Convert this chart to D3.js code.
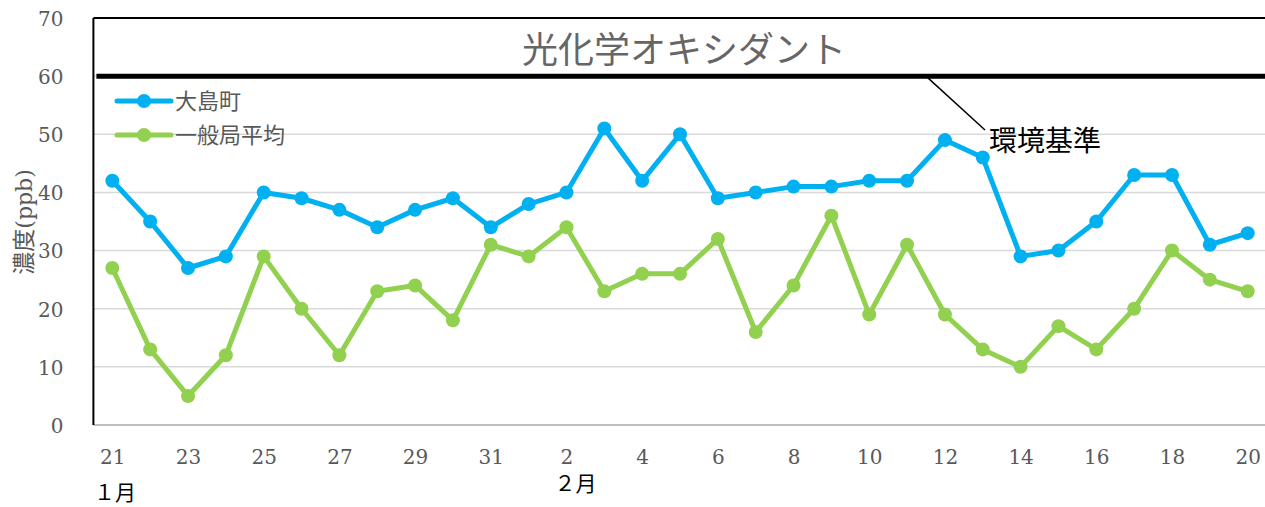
<!DOCTYPE html>
<html>
<head>
<meta charset="utf-8">
<script src="https://cdn.jsdelivr.net/npm/d3@7"></script>
<style>
  html, body { margin: 0; padding: 0; background: #fff; }
  svg { display: block; }
</style>
</head>
<body>
<div id="chart"></div>
<script>
// Daily dates, 21 Jan to 20 Feb
const days = [21,22,23,24,25,26,27,28,29,30,31,1,2,3,4,5,6,7,8,9,10,11,12,13,14,15,16,17,18,19,20];
// 大島町 daily maximum photochemical oxidant (ppb)
const oshima = [42,35,27,29,40,39,37,34,37,39,34,38,40,51,42,50,39,40,41,41,42,42,49,46,29,30,35,43,43,31,33];
// 一般局平均 daily maximum (ppb)
const generalAvg = [27,13,5,12,29,20,12,23,24,18,31,29,34,23,26,26,32,16,24,36,19,31,19,13,10,17,13,20,30,25,23];
const yTicks = [0,10,20,30,40,50,60,70];
const standard = 60;

(function () {
const W = 1265, H = 507;
const plotL = 93.4, plotR = 1266.6, plotT = 18, plotB = 425;

const svg = d3.select("#chart").append("svg").attr("width", W).attr("height", H);

const keys = days.map((d, i) => i);
const x = d3.scalePoint().domain(keys).range([plotL, plotR]).padding(0.5);
const y = d3.scaleLinear().domain([0, 70]).range([plotB, plotT]);

const numFont = "'DejaVu Serif', serif";
const jpFont = "'Noto Sans CJK JP', sans-serif";
const gray = "#595959";

// horizontal gridlines
svg.append("g").selectAll("line").data(yTicks.filter(v => v > 0 && v < 70)).join("line")
  .attr("x1", plotL).attr("x2", plotR)
  .attr("y1", d => y(d)).attr("y2", d => y(d))
  .attr("stroke", "#D9D9D9").attr("stroke-width", 1.5);

// y axis labels
const yAxis = d3.axisLeft(y).tickValues(yTicks).tickSize(0).tickPadding(30);
const gy = svg.append("g").attr("transform", `translate(${plotL},1)`).call(yAxis);
gy.select(".domain").remove();
gy.selectAll("text").attr("font-family", numFont).attr("font-size", 20).attr("fill", gray);

// x axis labels (every other day)
const xAxis = d3.axisBottom(x).tickValues(keys.filter(i => i % 2 === 0))
  .tickFormat(i => days[i]).tickSize(0).tickPadding(25);
const gx = svg.append("g").attr("transform", `translate(0,${plotB})`).call(xAxis);
gx.select(".domain").remove();
gx.selectAll("text").attr("font-family", numFont).attr("font-size", 20).attr("fill", gray);

// bottom axis line (gray), left axis and top border (black)
svg.append("line").attr("x1", plotL).attr("x2", plotR).attr("y1", plotB).attr("y2", plotB)
  .attr("stroke", "#BFBFBF").attr("stroke-width", 2);
svg.append("line").attr("x1", plotL).attr("x2", plotL).attr("y1", plotT).attr("y2", plotB)
  .attr("stroke", "#000").attr("stroke-width", 2);
svg.append("line").attr("x1", plotL).attr("x2", plotR).attr("y1", plotT).attr("y2", plotT)
  .attr("stroke", "#000").attr("stroke-width", 2);

// environmental standard line
svg.append("line").attr("x1", plotL + 3).attr("x2", plotR).attr("y1", y(standard)).attr("y2", y(standard))
  .attr("stroke", "#000").attr("stroke-width", 5);

// series
const line = d3.line().x((d, i) => x(i)).y(d => y(d));
function drawSeries(vals, color) {
  const g = svg.append("g");
  g.append("path").datum(vals).attr("d", line)
    .attr("fill", "none").attr("stroke", color).attr("stroke-width", 5)
    .attr("stroke-linejoin", "round");
  g.selectAll("circle").data(vals).join("circle")
    .attr("cx", (d, i) => x(i)).attr("cy", d => y(d)).attr("r", 7)
    .attr("fill", color);
}
drawSeries(generalAvg, "#92D050");
drawSeries(oshima, "#00B0F0");

// title
svg.append("text").attr("x", 684).attr("y", 63).attr("text-anchor", "middle")
  .attr("font-family", jpFont).attr("font-size", 36).attr("fill", "#666")
  .text("光化学オキシダント");

// standard annotation
svg.append("line").attr("x1", 926).attr("y1", y(standard)).attr("x2", 985).attr("y2", 130)
  .attr("stroke", "#000").attr("stroke-width", 1.5);
svg.append("text").attr("x", 989).attr("y", 151)
  .attr("font-family", jpFont).attr("font-size", 28).attr("fill", "#000")
  .text("環境基準");

// legend
const legend = [{name: "大島町", color: "#00B0F0", yy: 101}, {name: "一般局平均", color: "#92D050", yy: 135}];
const lg = svg.append("g").selectAll("g").data(legend).join("g");
lg.append("line").attr("x1", 117).attr("x2", 171).attr("y1", d => d.yy).attr("y2", d => d.yy)
  .attr("stroke", d => d.color).attr("stroke-width", 5).attr("stroke-linecap", "round");
lg.append("circle").attr("cx", 144).attr("cy", d => d.yy).attr("r", 7).attr("fill", d => d.color);
lg.append("text").attr("x", 175).attr("y", d => d.yy + 8)
  .attr("font-family", jpFont).attr("font-size", 22).attr("fill", gray)
  .text(d => d.name);

// y axis title
const yt = svg.append("text").attr("transform", "translate(32,222) rotate(-90)")
  .attr("text-anchor", "middle").attr("fill", gray);
yt.append("tspan").attr("font-family", jpFont).attr("font-size", 23).text("濃度");
yt.append("tspan").attr("font-family", numFont).attr("font-size", 22).text("(ppb)");

// month labels
svg.append("text").attr("x", 94).attr("y", 500)
  .attr("font-family", jpFont).attr("font-size", 21).attr("fill", "#000").text("１月");
svg.append("text").attr("x", x(days.indexOf(2))).attr("y", 491).attr("text-anchor", "start")
  .attr("dx", -12)
  .attr("font-family", jpFont).attr("font-size", 21).attr("fill", "#000").text("２月");
})();
</script>
</body>
</html>
